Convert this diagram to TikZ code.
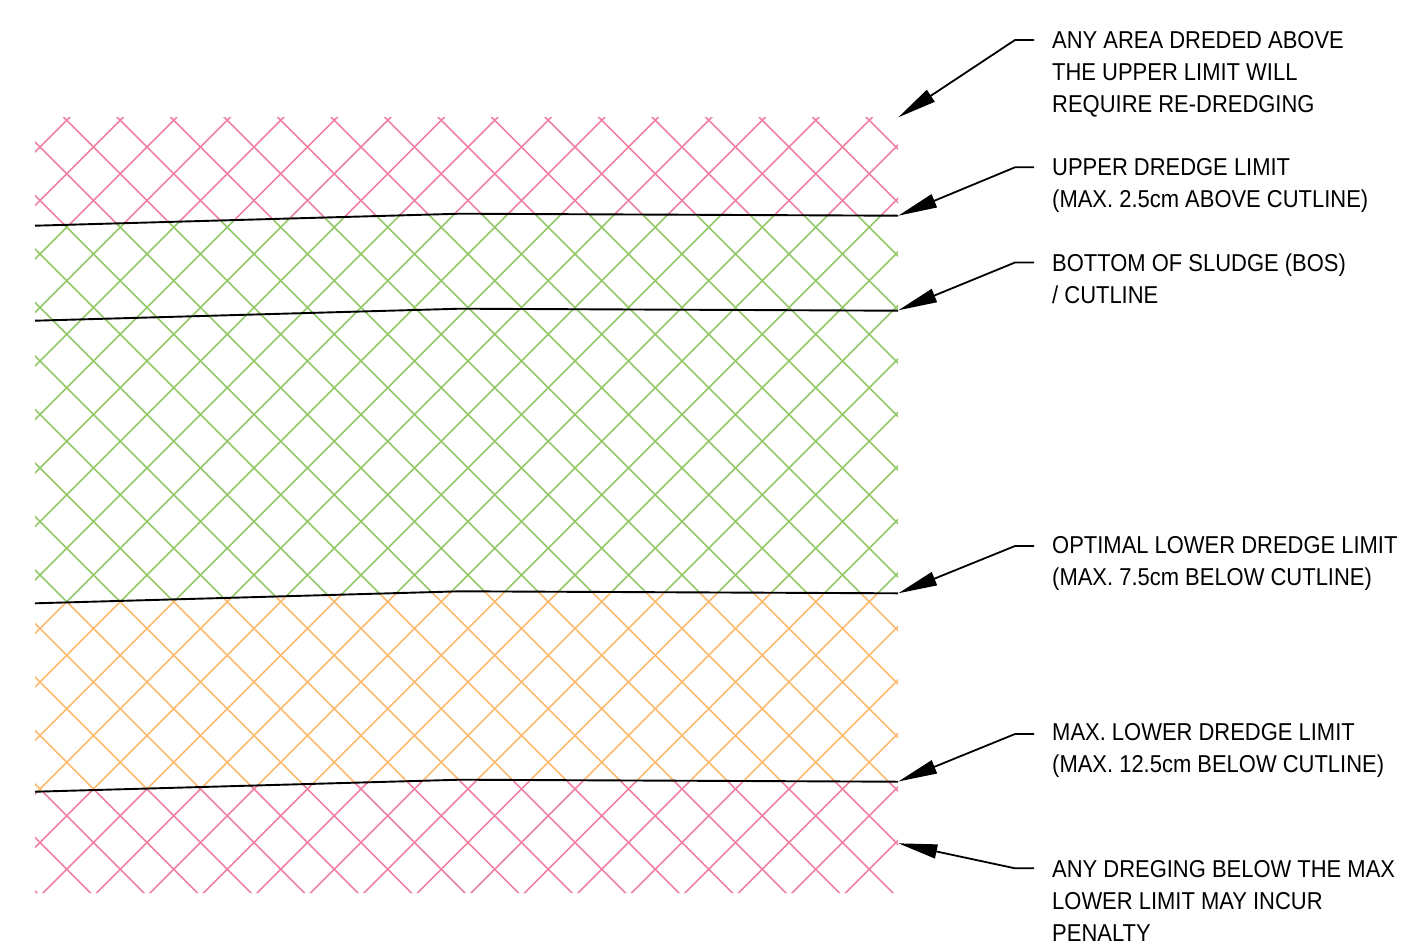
\documentclass[tikz,border=0pt]{standalone}
\usepackage{fontspec}
\setmainfont{Liberation Sans}[FakeStretch=0.9]
\usetikzlibrary{arrows.meta}
\definecolor{hpink}{RGB}{240,128,162}
\definecolor{hgreen}{RGB}{146,200,101}
\definecolor{horange}{RGB}{253,186,110}
\tikzset{
  hatch/.style={line width=1.5pt},
  limitline/.style={line width=1.9pt, black},
  leader/.style={line width=1.8pt, black, -{Triangle[length=39pt,width=14pt]}},
  lbl/.style={anchor=north west, inner sep=0pt, align=left, font=\fontsize{24.4}{32}\selectfont},
}
\newcommand{\tstr}{\rule{0pt}{20pt}}
\newcommand{\hatchgrid}[1]{%
  \foreach \k in {-17,...,15}{\draw[hatch,#1] ({53.5*\k+100},100) -- ({53.5*\k+900},900);}
  \foreach \k in {2,...,34}{\draw[hatch,#1] ({26.5+53.5*\k-100},100) -- ({26.5+53.5*\k-900},900);}
}
\begin{document}
\begin{tikzpicture}[x=1pt,y=-1pt]
\useasboundingbox (0,0) rectangle (1404,948);
% limit line corner points
\coordinate (a1) at (35,225.7); \coordinate (b1) at (460,213.7); \coordinate (c1) at (898,215.7);
\coordinate (a2) at (35,320.7); \coordinate (b2) at (460,308.7); \coordinate (c2) at (898,310.7);
\coordinate (a3) at (35,603.3); \coordinate (b3) at (460,591.3); \coordinate (c3) at (898,593.3);
\coordinate (a4) at (35,791.7); \coordinate (b4) at (460,779.7); \coordinate (c4) at (898,781.7);
% hatch bands
\begin{scope}
  \clip (35,117) -- (898,117) -- (c1) -- (b1) -- (a1) -- cycle;
  \hatchgrid{hpink}
\end{scope}
\begin{scope}
  \clip (a1) -- (b1) -- (c1) -- (c3) -- (b3) -- (a3) -- cycle;
  \hatchgrid{hgreen}
\end{scope}
\begin{scope}
  \clip (a3) -- (b3) -- (c3) -- (c4) -- (b4) -- (a4) -- cycle;
  \hatchgrid{horange}
\end{scope}
\begin{scope}
  \clip (a4) -- (b4) -- (c4) -- (898,893) -- (35,893) -- cycle;
  \hatchgrid{hpink}
\end{scope}
% limit lines
\draw[limitline] (a1) -- (b1) -- (c1);
\draw[limitline] (a2) -- (b2) -- (c2);
\draw[limitline] (a3) -- (b3) -- (c3);
\draw[limitline] (a4) -- (b4) -- (c4);
% labels
\node[lbl] (t1) at (1052,28.7) {\tstr ANY AREA DREDED ABOVE\\THE UPPER LIMIT WILL\\REQUIRE RE-DREDGING};
\node[lbl] (t2) at (1052,155) {\tstr UPPER DREDGE LIMIT\\(MAX. 2.5cm ABOVE CUTLINE)};
\node[lbl] (t3) at (1052,251) {\tstr BOTTOM OF SLUDGE (BOS)\\/ CUTLINE};
\node[lbl] (t4) at (1052,533.7) {\tstr OPTIMAL LOWER DREDGE LIMIT\\(MAX. 7.5cm BELOW CUTLINE)};
\node[lbl] (t5) at (1052,720) {\tstr MAX. LOWER DREDGE LIMIT\\(MAX. 12.5cm BELOW CUTLINE)};
\node[lbl] (t6) at (1052,857) {\tstr ANY DREGING BELOW THE MAX\\LOWER LIMIT MAY INCUR\\PENALTY};
% leaders
\coordinate (l1) at (1034,40);  \coordinate (k1) at (1015,40);  \coordinate (p1) at (898.3,117.3);
\coordinate (l2) at (1034,167.3); \coordinate (k2) at (1015,167.3); \coordinate (p2) at (898.3,215.7);
\coordinate (l3) at (1034,262.5); \coordinate (k3) at (1015,262.5); \coordinate (p3) at (898.3,310.3);
\coordinate (l4) at (1034,546); \coordinate (k4) at (1015,546); \coordinate (p4) at (898.3,593.3);
\coordinate (l5) at (1034,734); \coordinate (k5) at (1015,734); \coordinate (p5) at (898.3,781.5);
\coordinate (l6) at (1034,868.3); \coordinate (k6) at (1015,868.3); \coordinate (p6) at (898.3,843.3);
\draw[leader] (l1) -- (k1) -- (p1);
\draw[leader] (l2) -- (k2) -- (p2);
\draw[leader] (l3) -- (k3) -- (p3);
\draw[leader] (l4) -- (k4) -- (p4);
\draw[leader] (l5) -- (k5) -- (p5);
\draw[leader] (l6) -- (k6) -- (p6);
\end{tikzpicture}
\end{document}
